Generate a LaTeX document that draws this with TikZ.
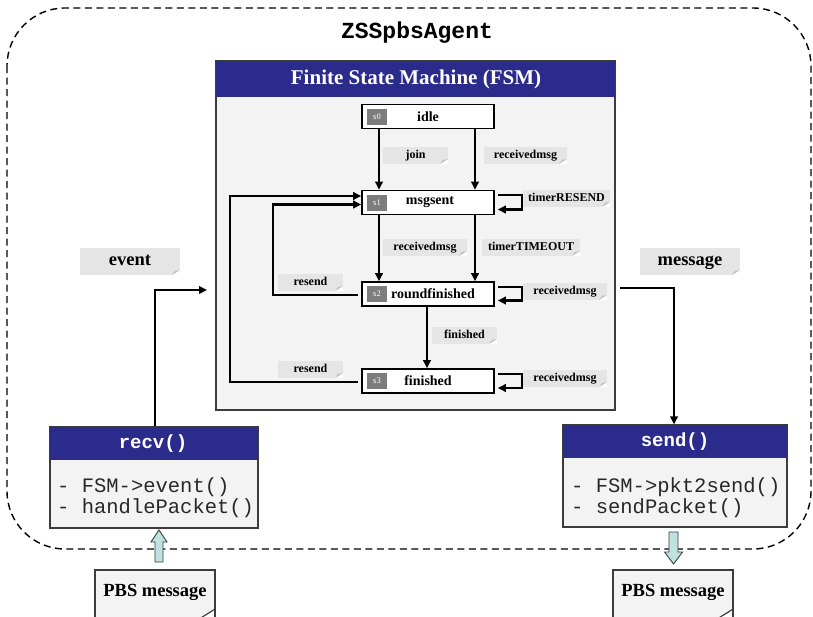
\documentclass[tikz,border=0pt]{standalone}
\usepackage{fontspec}
\setmainfont{Liberation Serif}
\setmonofont{Liberation Mono}
\usetikzlibrary{arrows.meta,calc}

\definecolor{hdrblue}{RGB}{43,43,140}
\definecolor{panelgray}{RGB}{243,243,243}
\definecolor{notegray}{RGB}{229,229,229}
\definecolor{foldgray}{RGB}{190,190,190}
\definecolor{taggray}{RGB}{125,125,125}
\definecolor{pipecyan}{RGB}{190,226,226}
\definecolor{edgegray}{RGB}{60,60,60}
\definecolor{codeink}{RGB}{40,40,40}

\tikzset{
  flow/.style={line width=2.4pt, -{Triangle[length=8pt,width=7.5pt]}},
  statebox/.style={draw=black, line width=1.6pt, fill=white,
    minimum width=132pt, minimum height=24pt, inner sep=0pt},
  statetxt/.style={font=\fontsize{14}{15}\selectfont\bfseries, inner sep=0pt},
  tagbox/.style={fill=taggray, text=white, minimum width=20pt, minimum height=16pt,
    inner sep=0pt, font=\fontsize{8.5}{9}\selectfont},
  note/.style={fill=notegray, inner sep=0pt, text height=8pt, text depth=2pt,
    font=\fontsize{12}{13}\selectfont\bfseries,
    path picture={
      \fill[white] ($(path picture bounding box.south east)+(-8pt,0pt)$)
        -- (path picture bounding box.south east)
        -- ($(path picture bounding box.south east)+(0pt,5pt)$) -- cycle;
      \fill[foldgray] ($(path picture bounding box.south east)+(-8pt,0pt)$)
        -- ($(path picture bounding box.south east)+(0pt,5pt)$)
        -- ($(path picture bounding box.south east)+(-5pt,4pt)$) -- cycle;
    }},
  bignote/.style={note, text height=12pt, text depth=4pt,
    font=\fontsize{18.5}{20}\selectfont\bfseries},
  hdrtxt/.style={text=white, inner sep=0pt},
  codetxt/.style={anchor=west, inner sep=0pt, text=codeink,
    font=\fontsize{20.5}{22}\ttfamily},
  pipe/.style={fill=pipecyan, draw=edgegray, line width=0.9pt}
}

\begin{document}
\begin{tikzpicture}[x=1pt, y=-1pt]
\useasboundingbox (0,0) rectangle (813,616);

% agent boundary
\draw[line width=1.4pt, dash pattern=on 7pt off 4.5pt, rounded corners=58pt]
  (7,8) rectangle (811,549);
\node[font=\fontsize{23}{24}\ttfamily\bfseries, inner sep=0pt] (agent) at (417,33) {ZSSpbsAgent};

% FSM panel
\node[draw=edgegray, line width=1.2pt, fill=panelgray, minimum width=399pt,
  minimum height=349pt, inner sep=0pt] (fsm) at (415.5,235.5) {};
\fill[hdrblue] (fsm.north west) rectangle (615,97);
\draw[edgegray, line width=1.2pt] (fsm.north west) rectangle (fsm.south east);
\node[hdrtxt, font=\fontsize{21}{22}\selectfont\bfseries] (fsmtitle) at (416,79.5)
  {Finite State Machine (FSM)};

% states
\node[statebox] (s0) at (428,116.5) {};
\node[statebox] (s1) at (428,202.5) {};
\node[statebox] (s2) at (428,294) {};
\node[statebox] (s3) at (428,381) {};
\node[tagbox] (t0) at (377,116.5) {s0};
\node[tagbox] (t1) at (377,202.5) {s1};
\node[tagbox] (t2) at (377,294) {s2};
\node[tagbox] (t3) at (377,381) {s3};
\node[statetxt] (n0) at (428,116.5) {idle};
\node[statetxt] (n1) at (430,202.5) {msgsent};
\node[statetxt] (n2) at (433,294) {roundfinished};
\node[statetxt] (n3) at (428,381) {finished};

% transitions between states
\draw[flow] (s0.south -| 379,0) -- (s1.north -| 379,0);
\draw[flow] (s0.south -| 475,0) -- (s1.north -| 475,0);
\draw[flow] (s1.south -| 379,0) -- (s2.north -| 379,0);
\draw[flow] (s1.south -| 475,0) -- (s2.north -| 475,0);
\draw[flow] (s2.south -| 427,0) -- (s3.north -| 427,0);

% self loops
\draw[flow] ($(s1.east)+(3,-7.5)$) -- ++(24,0) -- ++(0,14.5) -- ++(-24,0);
\draw[flow] ($(s2.east)+(3,-7)$) -- ++(24,0) -- ++(0,13.5) -- ++(-24,0);
\draw[flow] ($(s3.east)+(3,-7)$) -- ++(24,0) -- ++(0,14) -- ++(-24,0);

% resend paths back to msgsent
\coordinate (r2a) at (273,295);
\coordinate (r2b) at (273,204.5);
\draw[flow] ($(s2.west)+(-3,1)$) -- (r2a) -- (r2b) -- (s1.west |- r2b);
\coordinate (r3a) at (230,382);
\coordinate (r3b) at (230,196);
\draw[flow] ($(s3.west)+(-3,1)$) -- (r3a) -- (r3b) -- (s1.west |- r3b);

% transition labels
\node[note, minimum width=65pt, minimum height=17pt] (ljoin) at (415.5,155.5) {join};
\node[note, minimum width=83pt, minimum height=17pt] (lrx0) at (525.5,155.5) {receivedmsg};
\node[note, minimum width=84pt, minimum height=17pt] (lrx1) at (425,247.5) {receivedmsg};
\node[note, minimum width=98pt, minimum height=17pt] (ltmo) at (531,247.5) {timerTIMEOUT};
\node[note, minimum width=87pt, minimum height=17pt] (lres) at (566.5,198.5) {timerRESEND};
\node[note, minimum width=84pt, minimum height=17pt] (lrx2) at (565,291.5) {receivedmsg};
\node[note, minimum width=84pt, minimum height=17pt] (lrx3) at (565,378.5) {receivedmsg};
\node[note, minimum width=65pt, minimum height=17pt] (lfin) at (464.5,335.5) {finished};
\node[note, minimum width=65pt, minimum height=17pt] (lrs2) at (310.5,282.5) {resend};
\node[note, minimum width=65pt, minimum height=17pt] (lrs3) at (310.5,369.5) {resend};

% recv block
\node[draw=edgegray, line width=1.2pt, fill=panelgray, minimum width=208pt,
  minimum height=101pt, inner sep=0pt] (recv) at (154,477.5) {};
\fill[hdrblue] (recv.north west) rectangle (258,460);
\draw[edgegray, line width=1.2pt] (recv.north west) rectangle (recv.south east);
\node[hdrtxt, font=\fontsize{19}{20}\ttfamily\bfseries] (recvt) at (153,443.5) {recv()};
\node[codetxt] (recv1) at (57,487) {- FSM->event()};
\node[codetxt] (recv2) at (57,508.5) {- handlePacket()};

% send block
\node[draw=edgegray, line width=1.2pt, fill=panelgray, minimum width=224pt,
  minimum height=102pt, inner sep=0pt] (send) at (675,476) {};
\fill[hdrblue] (send.north west) rectangle (787,458);
\draw[edgegray, line width=1.2pt] (send.north west) rectangle (send.south east);
\node[hdrtxt, font=\fontsize{19}{20}\ttfamily\bfseries] (sendt) at (675,441.5) {send()};
\node[codetxt] (send1) at (571,487.5) {- FSM->pkt2send()};
\node[codetxt] (send2) at (571,508.5) {- sendPacket()};

% event and message flows
\node[bignote, minimum width=100pt, minimum height=27pt] (event) at (130,261.5) {event};
\node[bignote, minimum width=100pt, minimum height=27pt] (message) at (690,261.5) {message};
\coordinate (ev1) at (155,290);
\coordinate (ev2) at (207,290);
\draw[flow] (recv.north -| ev1) -- (ev1) -- (ev2);
\coordinate (ms1) at (620,288);
\coordinate (ms2) at (674,288);
\draw[flow] (ms1) -- (ms2) -- (send.north -| ms2);

% network packets
\node[draw=edgegray, line width=1.2pt, fill=panelgray, minimum width=120pt,
  minimum height=48pt, inner sep=0pt,
  path picture={
    \fill[white] ($(path picture bounding box.south east)+(-16pt,0pt)$)
      -- (path picture bounding box.south east)
      -- ($(path picture bounding box.south east)+(0pt,10pt)$) -- cycle;
  }] (pin) at (155,594) {};
\node[font=\fontsize{18.5}{20}\selectfont\bfseries, inner sep=0pt] (pint) at (155,592) {PBS message};
\draw[edgegray, line width=1pt] ($(pin.south east)+(-16,0)$) -- ($(pin.south east)+(0,-10)$)
  -- ($(pin.south east)+(-6,-6)$) -- cycle;

\node[draw=edgegray, line width=1.2pt, fill=panelgray, minimum width=120pt,
  minimum height=48pt, inner sep=0pt,
  path picture={
    \fill[white] ($(path picture bounding box.south east)+(-16pt,0pt)$)
      -- (path picture bounding box.south east)
      -- ($(path picture bounding box.south east)+(0pt,10pt)$) -- cycle;
  }] (pout) at (673,594) {};
\node[font=\fontsize{18.5}{20}\selectfont\bfseries, inner sep=0pt] (poutt) at (673,592) {PBS message};
\draw[edgegray, line width=1pt] ($(pout.south east)+(-16,0)$) -- ($(pout.south east)+(0,-10)$)
  -- ($(pout.south east)+(-6,-6)$) -- cycle;

% hollow transfer arrows
\draw[pipe] (155,562) -- (155,542) -- (151,542) -- (159,530) -- (167,542)
  -- (163,542) -- (163,562) -- cycle;
\draw[pipe] (669,532) -- (669,552) -- (664.5,552) -- (673.5,564) -- (682.5,552)
  -- (678,552) -- (678,532) -- cycle;
\end{tikzpicture}
\end{document}
